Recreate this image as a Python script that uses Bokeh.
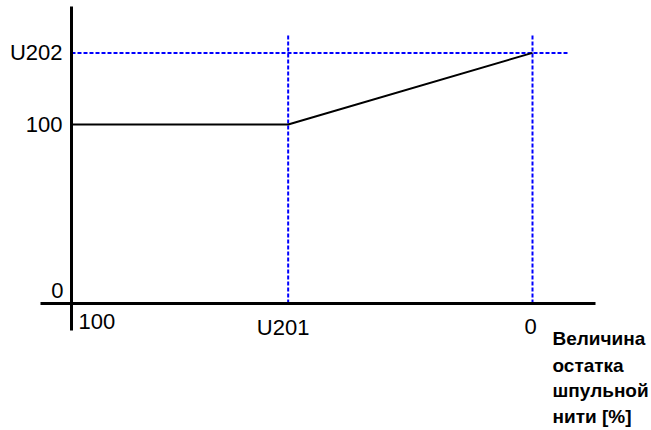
from bokeh.plotting import figure
from bokeh.models import Range1d
from bokeh.core.properties import value
from bokeh.embed import file_html
from bokeh.resources import INLINE

# ---- data ----
curve_x = [100, 53, 0]          # remaining bobbin thread [%]
curve_y = [100, 100, 140]
u201 = 53
u202 = 140
y_tick_vals = [0, 100, u202]
y_tick_labels = ["0", "100", "U202"]
x_tick_vals = [100, u201, 0]
x_tick_labels = ["100", "U201", "0"]
axis_title = ["Величина", "остатка", "шпульной", "нити [%]"]

# ---- layout (canvas pixels) ----
W, H = 651, 430
x_px_100, x_px_0 = 71, 532
y_px_0, y_px_100 = 303, 124
sx = (x_px_0 - x_px_100) / 100.0
sy = (y_px_0 - y_px_100) / 100.0


def px2x(px):
    return 100 - (px - x_px_100) / sx


def px2y(py):
    return (y_px_0 - py) / sy


p = figure(width=W, height=H,
           x_range=Range1d(px2x(0), px2x(W)),
           y_range=Range1d(px2y(H), px2y(0)),
           x_axis_type=None, y_axis_type=None,
           output_backend="svg", toolbar_location=None, min_border=0)
p.grid.visible = False
p.outline_line_color = None
p.background_fill_color = "white"
p.border_fill_color = "white"

BLUE = "#0000ff"
# dashed guide lines
p.line([x_tick_vals[0], px2x(567)], [u202, u202], line_color=BLUE, line_width=2, line_dash="4 2")
for xv in [u201, 0]:
    p.line([xv, xv], [0, px2y(33)], line_color=BLUE, line_width=2, line_dash="4 2")

# curve
p.line(curve_x, curve_y, line_color="black", line_width=2)

# axis lines
p.line([100, 100], [px2y(6), px2y(330)], line_color="black", line_width=3)
p.line([px2x(40), px2x(595)], [0, 0], line_color="black", line_width=3)

FONT = value("Liberation Sans")
FS = "22px"
# y tick labels
p.text(x=[100, 100], y=y_tick_vals[1:], text=y_tick_labels[1:], text_font=FONT,
       text_font_size=FS, text_align="right", text_baseline="middle",
       x_offset=-9, text_color="black")
p.text(x=[100], y=[y_tick_vals[0]], text=[y_tick_labels[0]], text_font=FONT,
       text_font_size=FS, text_align="right", text_baseline="middle",
       x_offset=-8, y_offset=-13, text_color="black")
# x tick labels
p.text(x=[x_tick_vals[0]], y=[0], text=[x_tick_labels[0]], text_font=FONT,
       text_font_size=FS, text_align="left", text_baseline="middle",
       x_offset=7, y_offset=18, text_color="black")
p.text(x=[x_tick_vals[1]], y=[0], text=[x_tick_labels[1]], text_font=FONT,
       text_font_size=FS, text_align="center", text_baseline="middle",
       x_offset=-5, y_offset=24, text_color="black")
p.text(x=[x_tick_vals[2]], y=[0], text=[x_tick_labels[2]], text_font=FONT,
       text_font_size=FS, text_align="center", text_baseline="middle",
       x_offset=-2, y_offset=23, text_color="black")

# axis title (bold, 4 lines)
for line, off in zip(axis_title, [35, 62, 87, 113]):
    p.text(x=[0], y=[0], text=[line], text_font=value("Liberation Sans"),
           text_font_size="19px", text_font_style="bold", text_align="left",
           text_baseline="alphabetic", x_offset=20, y_offset=off, text_color="black")

open("out.html", "w").write(file_html(p, INLINE))
